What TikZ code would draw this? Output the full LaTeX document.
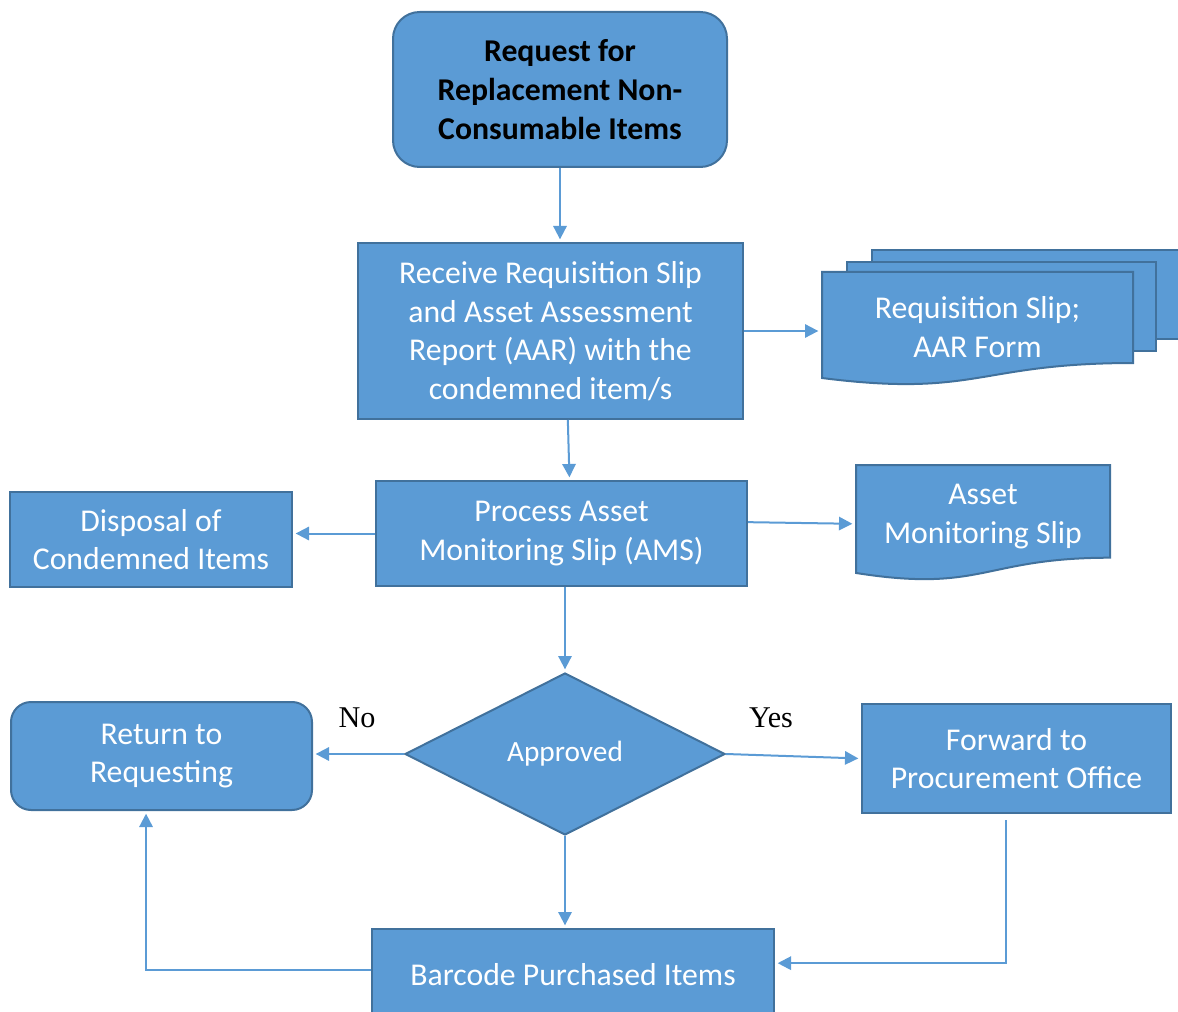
\documentclass[tikz,border=0pt]{standalone}
\usepackage{fontspec}
\setmainfont{Carlito}
\newfontfamily\answerfont{Liberation Serif}
\usetikzlibrary{arrows.meta,shapes.geometric,calc}

\definecolor{boxblue}{HTML}{5B9BD5}
\definecolor{edgeblue}{HTML}{41719C}

\tikzset{
  box/.style={rectangle, draw=edgeblue, fill=boxblue, line width=1.5pt, text=white,
    align=center, inner sep=0pt, font=\fontsize{23.8}{29}\selectfont},
  roundbox/.style={box, rounded corners=15pt},
  docbox/.style={box, draw=none, fill=none},
  decision/.style={box, diamond, aspect=2, font=\fontsize{22}{27}\selectfont},
  flow/.style={draw=boxblue, line width=1.5pt, shorten >=2pt,
    -{Triangle[length=10pt,width=10pt]}},
  answer/.style={font=\answerfont\fontsize{22.6}{27}\selectfont},
  docline/.style={draw=edgeblue, fill=boxblue, line width=1.5pt}
}

% document shape: left x, top y, right x, height
\newcommand{\docshape}[4]{%
  \filldraw[docline] (#1,#2) -- (#3,#2) -- (#3,{#2+0.802*#4})
    .. controls ({(#1+#3)/2},{#2+0.802*#4}) and ({(#1+#3)/2},{#2+1.108*#4}) .. (#1,{#2+0.934*#4}) -- cycle;}

\begin{document}
\begin{tikzpicture}[x=0.75pt,y=-0.75pt]
\useasboundingbox (0,0) rectangle (1178,1012);

% stacked documents
\filldraw[docline] (872,250) rectangle (1184,339);
\filldraw[docline] (847,262) rectangle (1156,351);
\docshape{822}{272}{1133}{113.5}
\docshape{856}{465}{1110}{115.6}

\node[roundbox, rounded corners=20pt, minimum width=250.5pt, minimum height=116.25pt,
  text=black, font=\bfseries\fontsize{23.8}{29}\selectfont] (req) at (560,89.5)
  {Request for\\Replacement Non-\\Consumable Items};
\node[box, minimum width=288.75pt, minimum height=132pt] (recv) at (550.5,331)
  {Receive Requisition Slip\\and Asset Assessment\\Report (AAR) with the\\condemned item/s};
\node[docbox, minimum width=233.25pt, minimum height=85.1pt] (reqdoc) at (977.5,327)
  {Requisition Slip;\\AAR Form};
\node[box, minimum width=278.25pt, minimum height=78.75pt] (proc) at (561.5,533.5)
  {Process Asset\\Monitoring Slip (AMS)};
\node[box, minimum width=211.5pt, minimum height=71.25pt] (disp) at (151,539.5)
  {Disposal of\\Condemned Items};
\node[docbox, minimum width=190.5pt, minimum height=86.7pt] (amsdoc) at (983,516.5)
  {Asset\\Monitoring Slip};
\node[decision, minimum width=240pt, minimum height=121.5pt] (diam) at (565,754)
  {Approved};
\node[roundbox, minimum width=225.75pt, minimum height=81pt] (ret) at (161.5,756)
  {Return to\\Requesting};
\node[box, minimum width=231.75pt, minimum height=81.75pt] (fwd) at (1016.5,758.5)
  {Forward to\\Procurement Office};
\node[box, minimum width=301.5pt, minimum height=68.25pt] (bar) at (573,974.5)
  {Barcode Purchased Items};

\node[answer] (no) at (357,718) {No};
\node[answer] (yes) at (771,718) {Yes};

\draw[flow] (req.south) -- (req.south |- recv.north);
\draw[flow] ([xshift=13pt]recv.south) -- ([xshift=6pt]proc.north);
\draw[flow] (recv.east) -- (recv.east -| reqdoc.west);
\draw[flow] (proc.west) -- (proc.west -| disp.east);
\draw[flow] ([yshift=8.5pt]proc.east) -- ([yshift=-5.5pt]amsdoc.west);
\draw[flow] (proc.south -| diam.north) -- (diam.north);
\draw[flow] (diam.west) -- (diam.west -| ret.east);
\draw[flow] (diam.east) -- (fwd.west);
\draw[flow] (diam.south) -- (diam.south |- bar.north);
\draw[flow] ([xshift=-8pt,yshift=-4.5pt]fwd.south) |- ([yshift=8.5pt]bar.east);
\draw[flow] ([yshift=3.4pt]bar.west) -| ([xshift=-11.6pt]ret.south);

\end{tikzpicture}
\end{document}
